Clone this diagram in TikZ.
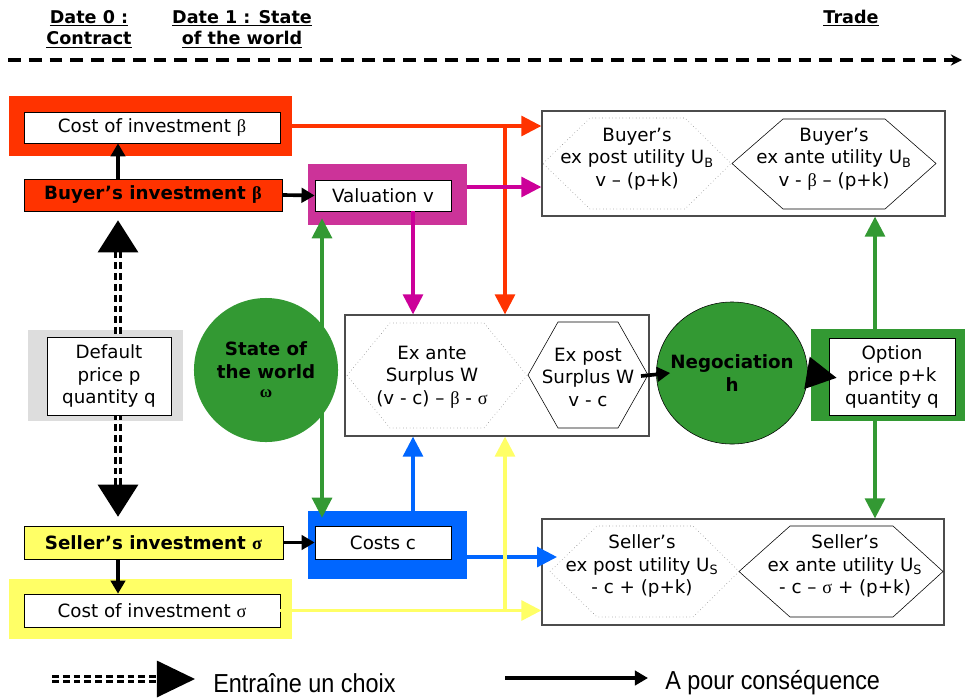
\documentclass[tikz,border=0pt]{standalone}
\usepackage{fontspec}
\setmainfont{DejaVu Sans}
\newfontfamily\legfont[FakeStretch=0.9]{Liberation Sans}
\newfontfamily\grk{Liberation Serif}
\usetikzlibrary{arrows.meta, shapes.geometric, calc}
\definecolor{redc}{RGB}{255,51,0}
\definecolor{magc}{RGB}{204,51,153}
\definecolor{magl}{RGB}{204,0,153}
\definecolor{grnc}{RGB}{51,153,51}
\definecolor{bluc}{RGB}{0,102,255}
\definecolor{yelc}{RGB}{255,255,102}
\definecolor{grayc}{RGB}{221,221,221}

\begin{document}
\begin{tikzpicture}[x=0.025cm, y=-0.025cm,
    font=\fontsize{13}{16}\selectfont,
    outer/.style={rectangle, inner sep=0pt},
    inbox/.style={rectangle, draw=black, fill=white, thin, inner sep=0pt, align=center},
    bigbox/.style={rectangle, draw=black!70, line width=0.9pt, inner sep=0pt},
    hexpost/.style={draw=gray, dotted, thin},
    hexante/.style={draw=black, thin},
    txt/.style={align=center, inner sep=0pt},
    blk/.style={black, line width=2.6pt, -{Triangle[length=0.33cm,width=0.36cm]}},
    col/.style={line width=2.2pt, -{Triangle[length=0.5cm,width=0.5cm]}},
    dbl/.style={double, line width=0.07cm, double distance=0.06cm, dash pattern=on 0.17cm off 0.1cm},
    hdr/.style={font=\fontsize{12.5}{15.6}\selectfont\bfseries, align=center, inner sep=0pt}]
    \useasboundingbox (0,0) rectangle (965,698);
    \node[hdr] (d0) at (89,29)  {\underline{Date 0 :}\\\underline{Contract}};
    \node[hdr] (d1) at (242,29) {\underline{Date 1 : State}\\\underline{of the world}};
    \node[hdr] (tr) at (851,18) {\underline{Trade}};
    \coordinate (t0) at (8,60);
    \coordinate (t1) at (962,60);
    \draw[line width=2.5pt, dash pattern=on 0.32cm off 0.2cm, -{Stealth[length=0.28cm,width=0.28cm]}] (t0) -- (t1);
    \node[outer, fill=redc, minimum width=7.075cm, minimum height=1.5cm] (costBframe) at (150.5,126) {};
    \node[inbox, minimum width=6.4cm, minimum height=0.775cm] (costB) at (152,127.5) {Cost of investment {\grk β}};
    \node[inbox, fill=redc, minimum width=6.45cm, minimum height=0.8cm, font=\fontsize{13}{16}\selectfont\bfseries] (invB) at (153,195) {Buyer’s investment {\grk\bfseries β}};
    \node[outer, fill=magc, minimum width=3.975cm, minimum height=1.525cm] (valframe) at (387.5,194.5) {};
    \node[inbox, minimum width=3.4cm, minimum height=0.775cm] (val) at (383,195.5) {Valuation v};
    \node[bigbox, minimum width=10.075cm, minimum height=2.625cm] (buyerbox) at (743.5,163.5) {};
    \draw[hexpost] (543,163.5) -- (590,118) -- (685,118) -- (731,163.5) -- (685,209) -- (590,209) -- cycle;
    \draw[hexante] (732,163.5) -- (783,119) -- (885,119) -- (936,163.5) -- (885,209) -- (783,209) -- cycle;
    \node[txt] (ubpost) at (637,159) {Buyer’s\\ex post utility U\textsubscript{B}\\v -- (p+k)};
    \node[txt] (ubante) at (834,159) {Buyer’s\\ex ante utility U\textsubscript{B}\\v - {\grk β} -- (p+k)};
    \node[outer, fill=grayc, minimum width=3.875cm, minimum height=2.275cm] (defframe) at (105.5,375.5) {};
    \coordinate (lc) at (118,0);
    \node[inbox, fill=yelc, minimum width=6.475cm, minimum height=0.825cm, font=\fontsize{13}{16}\selectfont\bfseries] (invS) at (153.5,542.5) {Seller’s investment {\grk\bfseries σ}};
    \draw[dbl, {Triangle[length=0.8cm,width=1cm]}-{Triangle[length=0.8cm,width=1cm]}, shorten <=0.225cm, shorten >=0.225cm] (lc |- invB.south) -- (lc |- invS.north);
    \node[inbox, minimum width=3.1cm, minimum height=1.95cm] (def) at (109,376) {Default\\price p\\quantity q};
    \node[circle, fill=grnc, minimum size=3.6cm, inner sep=0pt, align=center, font=\fontsize{13}{16}\selectfont\bfseries] (state) at (266,370) {State of\\the world\\[-2pt]{\grk\bfseries\fontsize{12}{12}\selectfont ω}};
    \node[bigbox, minimum width=7.6cm, minimum height=3.025cm] (centerbox) at (497,375.5) {};
    \draw[hexpost] (347,375.5) -- (390,323) -- (484,323) -- (527,375.5) -- (484,428) -- (390,428) -- cycle;
    \draw[hexante] (528,375) -- (558,322) -- (618,322) -- (648,375) -- (618,428) -- (558,428) -- cycle;
    \node[txt] (wante) at (432,377) {Ex ante\\Surplus W\\(v - c) -- {\grk β} - {\grk σ}};
    \node[txt] (wpost) at (588,377) {Ex post\\Surplus W\\v - c};
    \node[ellipse, draw=black, fill=grnc, minimum width=3.775cm, minimum height=3.55cm, inner sep=0pt] (neg) at (732,373) {};
    \node[txt, font=\fontsize{13}{16}\selectfont\bfseries] (negtxt) at (neg) {Negociation\\h};
    \node[outer, fill=grnc, minimum width=3.85cm, minimum height=2.3cm] (optframe) at (888,375) {};
    \node[inbox, minimum width=3.15cm, minimum height=1.925cm] (opt) at (892,376.5) {Option\\price p+k\\quantity q};
    \node[outer, fill=yelc, minimum width=7.075cm, minimum height=1.5cm] (costSframe) at (150.5,609) {};
    \node[inbox, minimum width=6.4cm, minimum height=0.825cm] (costS) at (152,610.5) {Cost of investment {\grk σ}};
    \node[outer, fill=bluc, minimum width=3.975cm, minimum height=1.7cm] (costframe) at (387.5,545) {};
    \node[inbox, minimum width=3.4cm, minimum height=0.825cm] (costs) at (383,542.5) {Costs c};
    \node[bigbox, minimum width=10.05cm, minimum height=2.65cm] (sellerbox) at (743,572) {};
    \draw[hexpost] (550,571.5) -- (597,526) -- (693,526) -- (739,571.5) -- (693,617) -- (597,617) -- cycle;
    \draw[hexante] (739,571.5) -- (790,526) -- (893,526) -- (943,571.5) -- (893,617) -- (790,617) -- cycle;
    \node[txt] (uspost) at (642,566) {Seller’s\\ex post utility U\textsubscript{S}\\- c + (p+k)};
    \node[txt] (usante) at (845,566) {Seller’s\\ex ante utility U\textsubscript{S}\\- c -- {\grk σ} + (p+k)};
    \draw[blk] (lc |- invB.north) -- (lc |- costB.south);
    \draw[blk] (invB.east) -- (val.west);
    \draw[blk] (lc |- invS.south) -- (lc |- costS.north);
    \draw[blk] (invS.east) -- (costs.west);
    \coordinate (rj) at (505,126);
    \coordinate (yj) at (505,609);
    \coordinate (gl) at (322,370);
    \coordinate (gr) at (875,0);
    \coordinate (bh) at (557,557);
    \coordinate (mh) at (0,187);
    \draw[col, redc] (costBframe.east) -- (buyerbox.west |- costBframe.east);
    \draw[col, redc] (rj) -- (rj |- centerbox.north);
    \draw[col, magl] (valframe.east |- mh) -- (buyerbox.west |- mh);
    \draw[col, magl] ([xshift=0.75cm]val.south) -- ([xshift=0.75cm]val.south |- centerbox.north);
    \draw[col, grnc, shorten >=0.175cm] (gl) -- (gl |- val.south);
    \draw[col, grnc, shorten >=0.2cm] (gl) -- (gl |- costs.north);
    \draw[col, grnc] (gr |- optframe.north) -- (gr |- buyerbox.south);
    \draw[col, grnc] (gr |- optframe.south) -- (gr |- sellerbox.north);
    \draw[col, bluc] ([xshift=0.75cm]costs.north) -- ([xshift=0.75cm]costs.north |- centerbox.south);
    \draw[col, bluc] (costframe.east |- bh) -- (bh);
    \draw[col, yelc] (costS.east) -- (sellerbox.west |- costS.east);
    \draw[col, yelc] (yj) -- (yj |- centerbox.south);
    \coordinate (wp) at (641,376);
    \draw[blk] (wp) -- ([xshift=0.35cm]neg.west);
    \draw[line width=2pt, -{Triangle[length=0.75cm,width=0.8cm]}, shorten >=-0.2cm] (neg.east) -- (opt.west);
    \coordinate (la0) at (52,679);
    \coordinate (la1) at (195,679);
    \coordinate (lb0) at (505,678);
    \coordinate (lb1) at (648,678);
    \draw[dbl, -{Triangle[length=0.95cm,width=0.9cm]}] (la0) -- (la1);
    \draw[blk] (lb0) -- (lb1);
    \node[anchor=west, inner sep=0pt, font=\legfont\fontsize{18.5}{20}\selectfont] (leg1) at (213,683) {Entraîne un choix};
    \node[anchor=west, inner sep=0pt, font=\legfont\fontsize{18.5}{20}\selectfont] (leg2) at (665,683) {A pour conséquence};
\end{tikzpicture}
\end{document}
